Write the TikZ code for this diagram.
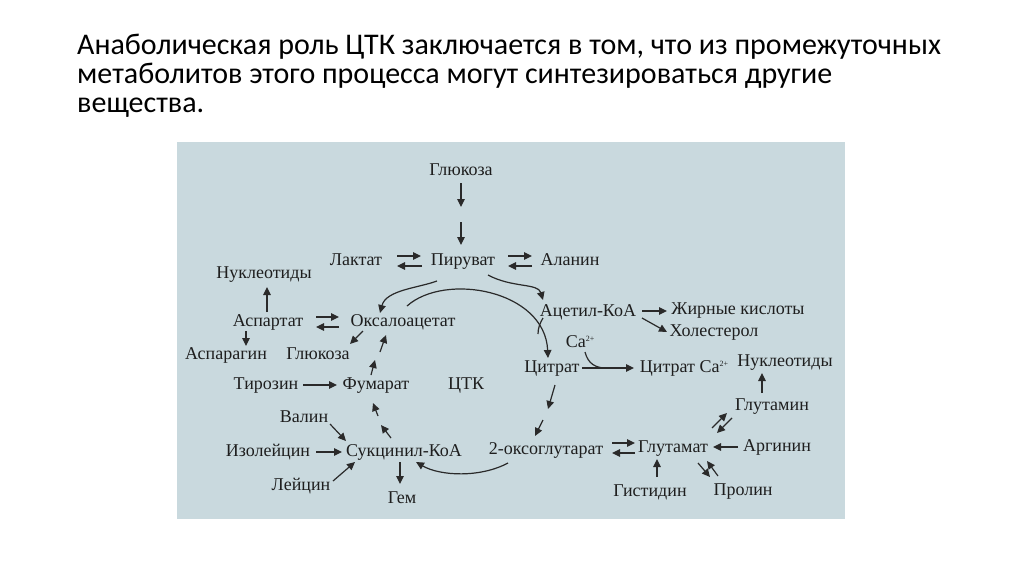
\documentclass[tikz,border=0pt]{standalone}
\usepackage{fontspec}
\setmainfont{Liberation Serif}
\newfontfamily\titlefont{Carlito}
\usetikzlibrary{arrows.meta}
\definecolor{bgpanel}{HTML}{C9D9DE}
\definecolor{ink}{HTML}{1E1E1E}
\definecolor{lineink}{HTML}{2A2A2A}
\newcommand{\casup}{\raisebox{6pt}{\fontsize{8}{8}\selectfont 2+}}
\tikzset{
  lbl/.style={font=\fontsize{18}{20}\selectfont, text=ink, inner sep=1pt, text height=12pt, text depth=4pt},
  ttl/.style={font=\titlefont\fontsize{30}{29}\selectfont, text=black, inner sep=0pt, anchor=base west},
  arr/.style={draw=lineink, line width=1.2pt, -{Triangle[length=8pt,width=7.5pt]}},
  ln/.style={draw=lineink, line width=1.2pt},
}
\begin{document}
\begin{tikzpicture}[x=1pt,y=-1pt]
\useasboundingbox (0,0) rectangle (1024,574);
\fill[white] (0,0) rectangle (1024,574);
% title
\node[ttl] (t1) at (77,54) {Анаболическая роль ЦТК заключается в том, что из промежуточных};
\node[ttl] (t2) at (77,83) {метаболитов этого процесса могут синтезироваться другие};
\node[ttl] (t3) at (77,112) {вещества.};
% panel
\fill[bgpanel] (177,142) rectangle (845,519);
% nodes
\node[lbl] (glu1) at (461,171) {Глюкоза};
\node[lbl] (lac) at (356,261) {Лактат};
\node[lbl] (pyr) at (463,261) {Пируват};
\node[lbl] (ala) at (570,261) {Аланин};
\node[lbl] (nuc1) at (264,274) {Нуклеотиды};
\node[lbl] (asp) at (268,322) {Аспартат};
\node[lbl] (oaa) at (403,322) {Оксалоацетат};
\node[lbl] (acc) at (588,312) {Ацетил-КоА};
\node[lbl] (fa) at (738,310) {Жирные кислоты};
\node[lbl] (chol) at (714,332) {Холестерол};
\node[lbl] (ca) at (580,343) {Ca\casup};
\node[lbl] (cit) at (552,368) {Цитрат};
\node[lbl] (citca) at (684,368) {Цитрат Ca\casup};
\node[lbl] (nuc2) at (785,362) {Нуклеотиды};
\node[lbl] (asn) at (226,355) {Аспарагин};
\node[lbl] (glu2) at (318,355) {Глюкоза};
\node[lbl] (tyr) at (266,385) {Тирозин};
\node[lbl] (fum) at (376,385) {Фумарат};
\node[lbl] (ctk) at (466,385) {ЦТК};
\node[lbl] (val) at (304,418) {Валин};
\node[lbl] (ile) at (268,452) {Изолейцин};
\node[lbl] (suc) at (404,452) {Сукцинил-КоА};
\node[lbl] (leu) at (301,486) {Лейцин};
\node[lbl] (hem) at (402,499) {Гем};
\node[lbl] (akg) at (546,450) {2-оксоглутарат};
\node[lbl] (glt) at (673,448) {Глутамат};
\node[lbl] (arg) at (777,447) {Аргинин};
\node[lbl] (gln) at (772,406) {Глутамин};
\node[lbl] (his) at (650,492) {Гистидин};
\node[lbl] (pro) at (743,491) {Пролин};
% connector end points
\coordinate (gA) at (461,183); \coordinate (gB) at (461,207);
\coordinate (gC) at (461,222); \coordinate (gD) at (461,245);
\coordinate (lpA) at (397,256); \coordinate (lpB) at (421,256);
\coordinate (lpC) at (422,266); \coordinate (lpD) at (397,266);
\coordinate (paA) at (508,256); \coordinate (paB) at (532,256);
\coordinate (paC) at (532,266); \coordinate (paD) at (508,266);
\coordinate (anA) at (267,312); \coordinate (anB) at (267,287);
\coordinate (aoA) at (316,317); \coordinate (aoB) at (339,317);
\coordinate (aoC) at (339,327); \coordinate (aoD) at (316,327);
\coordinate (aaA) at (246,331); \coordinate (aaB) at (246,346);
\coordinate (ogA) at (363,331); \coordinate (ogB) at (350,344);
\coordinate (foA) at (371,375); \coordinate (foB) at (375,360);
\coordinate (foC) at (380,352); \coordinate (foD) at (386,335);
\coordinate (sfA) at (391,438); \coordinate (sfB) at (381,425);
\coordinate (sfC) at (378,416); \coordinate (sfD) at (373,403);
\coordinate (tfA) at (303,385); \coordinate (tfB) at (337,385);
\coordinate (vsA) at (330,424); \coordinate (vsB) at (346,441);
\coordinate (isA) at (316,452); \coordinate (isB) at (342,452);
\coordinate (lsA) at (333,481); \coordinate (lsB) at (355,462);
\coordinate (shA) at (400,462); \coordinate (shB) at (400,484);
\coordinate (ksA) at (508,463); \coordinate (ksB) at (416,462);
\coordinate (poA) at (437,281); \coordinate (poB) at (380,313);
\coordinate (ocA) at (407,306); \coordinate (ocB) at (548,358);
\coordinate (pcA) at (488,275); \coordinate (pcB) at (543,300);
\coordinate (cjA) at (543,318); \coordinate (cjB) at (538,334);
\coordinate (afA) at (642,311); \coordinate (afB) at (667,311);
\coordinate (ahA) at (642,318); \coordinate (ahB) at (667,332);
\coordinate (caA) at (585,352); \coordinate (caB) at (606,368);
\coordinate (ccA) at (582,368); \coordinate (ccB) at (634,368);
\coordinate (ckA) at (555,385); \coordinate (ckB) at (548,409);
\coordinate (ckC) at (543,420); \coordinate (ckD) at (535,436);
\coordinate (kgA) at (612,443); \coordinate (kgB) at (635,443);
\coordinate (kgC) at (635,453); \coordinate (kgD) at (612,453);
\coordinate (rgA) at (738,447); \coordinate (rgB) at (713,447);
\coordinate (hgA) at (657,477); \coordinate (hgB) at (657,459);
\coordinate (gqA) at (712,428); \coordinate (gqB) at (727,413);
\coordinate (gqC) at (732,418); \coordinate (gqD) at (717,433);
\coordinate (gpA) at (698,463); \coordinate (gpB) at (710,477);
\coordinate (gpC) at (718,476); \coordinate (gpD) at (707,461);
\coordinate (qnA) at (762,393); \coordinate (qnB) at (762,373);
% connectors
\draw[arr] (gA) -- (gB);
\draw[arr] (gC) -- (gD);
\draw[arr] (lpA) -- (lpB);
\draw[arr] (lpC) -- (lpD);
\draw[arr] (paA) -- (paB);
\draw[arr] (paC) -- (paD);
\draw[arr] (anA) -- (anB);
\draw[arr] (aoA) -- (aoB);
\draw[arr] (aoC) -- (aoD);
\draw[arr] (aaA) -- (aaB);
\draw[arr] (ogA) -- (ogB);
\draw[arr] (foA) -- (foB);
\draw[arr] (foC) -- (foD);
\draw[arr] (sfA) -- (sfB);
\draw[arr] (sfC) -- (sfD);
\draw[arr] (tfA) -- (tfB);
\draw[arr] (vsA) -- (vsB);
\draw[arr] (isA) -- (isB);
\draw[arr] (lsA) -- (lsB);
\draw[arr] (shA) -- (shB);
\draw[arr] (ksA) .. controls (480,478) and (440,476) .. (ksB);
\draw[arr] (poA) .. controls (418,288) and (386,290) .. (poB);
\draw[arr] (ocA) .. controls (445,272) and (545,290) .. (ocB);
\draw[arr] (pcA) .. controls (512,288) and (538,283) .. (pcB);
\draw[ln] (cjA) .. controls (540,323) and (538,328) .. (cjB);
\draw[arr] (afA) -- (afB);
\draw[arr] (ahA) -- (ahB);
\draw[ln] (caA) .. controls (588,364) and (596,368) .. (caB);
\draw[arr] (ccA) -- (ccB);
\draw[arr] (ckA) -- (ckB);
\draw[arr] (ckC) -- (ckD);
\draw[arr] (kgA) -- (kgB);
\draw[arr] (kgC) -- (kgD);
\draw[arr] (rgA) -- (rgB);
\draw[arr] (hgA) -- (hgB);
\draw[arr] (gqA) -- (gqB);
\draw[arr] (gqC) -- (gqD);
\draw[arr] (gpA) -- (gpB);
\draw[arr] (gpC) -- (gpD);
\draw[arr] (qnA) -- (qnB);
\end{tikzpicture}
\end{document}
